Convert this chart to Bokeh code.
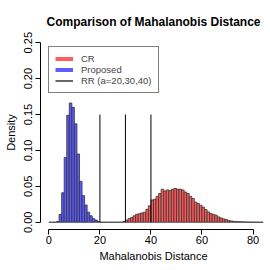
import numpy as np
from bokeh.plotting import figure
from bokeh.models import (ColumnDataSource, FixedTicker, PrintfTickFormatter,
                          Legend, LegendItem, Title)
from bokeh.embed import file_html
from bokeh.resources import INLINE

# ---- data (histogram densities, bin width 1) ----
proposed_bin_start = 0
proposed_density = [0, 0, 0, 0.001, 0.011, 0.041, 0.090, 0.149, 0.166, 0.160,
                    0.137, 0.095, 0.057, 0.037, 0.024, 0.014, 0.009, 0.005,
                    0.003, 0.001]

cr_bin_start = 20
cr_density = [0, 0, 0, 0, 0, 0, 0, 0, 0,
              0.001, 0.003, 0.005, 0.0065, 0.009, 0.011, 0.012, 0.013, 0.014,
              0.018, 0.023, 0.031, 0.032, 0.036, 0.040, 0.046, 0.0435, 0.045,
              0.044, 0.046, 0.047, 0.046, 0.046, 0.045, 0.042, 0.040, 0.036,
              0.033, 0.028, 0.026, 0.0236, 0.021, 0.0176, 0.0144, 0.012, 0.011,
              0.0097, 0.0074, 0.006, 0.0046, 0.0037, 0.0023, 0.0018, 0.0012,
              0.001, 0.0008, 0.0007, 0.0005, 0.0004, 0.0003, 0.0002, 0.0002,
              0.0001, 0.0001, 0.0001]

rr_a = [20, 30, 40]
rr_height = [0.15, 0.15, 0.15]

x_ticks = [0, 20, 40, 60, 80]
y_ticks = [0.0, 0.05, 0.10, 0.15, 0.20, 0.25]

legend_labels = ["CR", "Proposed", "RR (a=20,30,40)"]
x_title = "Mahalanobis Distance"
y_title = "Density"
main_title = "Comparison of Mahalanobis Distance"

FONT = "Liberation Sans"
RED_FILL = "#ff5a5a"
BLUE_FILL = "#5a5aff"

p = figure(width=270, height=270, output_backend="svg", toolbar_location=None,
           x_range=(-3.28, 85.28), y_range=(-0.0101, 0.26),
           min_border_left=40, min_border_right=4, min_border_top=35,
           min_border_bottom=41)
p.outline_line_color = None
p.grid.visible = False
p.background_fill_color = "white"
p.border_fill_color = "white"

def bins(start, vals):
    left = np.arange(len(vals)) + start
    return ColumnDataSource(dict(left=left, right=left + 1,
                                 top=np.array(vals, dtype=float),
                                 bottom=np.zeros(len(vals))))

p.quad(left="left", right="right", top="top", bottom="bottom",
       source=bins(proposed_bin_start, proposed_density),
       fill_color=BLUE_FILL, line_color="#333333", line_width=0.8)
p.quad(left="left", right="right", top="top", bottom="bottom",
       source=bins(cr_bin_start, cr_density),
       fill_color=RED_FILL, line_color="#333333", line_width=0.8)

p.segment(x0=rr_a, y0=[0] * len(rr_a), x1=rr_a, y1=rr_height,
          line_color="black", line_width=1)

# legend proxies (placed outside the visible range)
r_cr = p.line(x=[-100, -99], y=[-1, -1], line_color="#ff5c5c", line_width=4)
r_pr = p.line(x=[-100, -99], y=[-1, -1], line_color="#5c5cff", line_width=4)
r_rr = p.line(x=[-100, -99], y=[-1, -1], line_color="black", line_width=1.2)
legend = Legend(items=[LegendItem(label=legend_labels[0], renderers=[r_cr]),
                       LegendItem(label=legend_labels[1], renderers=[r_pr]),
                       LegendItem(label=legend_labels[2], renderers=[r_rr])],
                location=(8, 136), padding=6, margin=0, spacing=0,
                glyph_width=18, glyph_height=11, label_height=11,
                label_standoff=8, label_text_font=FONT,
                label_text_font_size="9.5px", border_line_color="black",
                border_line_width=1, background_fill_alpha=1.0)
p.add_layout(legend, "center")

# axes
for ax in (p.xaxis[0], p.yaxis[0]):
    ax.minor_tick_line_color = None
    ax.major_tick_in = 0
    ax.major_tick_out = 5
    ax.axis_line_color = "black"
    ax.major_tick_line_color = "black"
    ax.major_label_text_font = FONT
    ax.major_label_text_font_size = "11px"
    ax.major_label_text_color = "black"
    ax.axis_label_text_font = FONT
    ax.axis_label_text_font_size = "11px"
    ax.axis_label_text_font_style = "normal"
    ax.axis_label_text_color = "black"

p.xaxis.ticker = FixedTicker(ticks=x_ticks)
p.xaxis.bounds = (x_ticks[0], x_ticks[-1])
p.xaxis.axis_label = x_title
p.xaxis.major_label_standoff = 1
p.xaxis.axis_label_standoff = 3

p.yaxis.ticker = FixedTicker(ticks=y_ticks)
p.yaxis.bounds = (y_ticks[0], y_ticks[-1])
p.yaxis.formatter = PrintfTickFormatter(format="%.2f")
p.yaxis.major_label_orientation = "vertical"
p.yaxis.axis_label = y_title
p.yaxis.major_label_standoff = 3
p.yaxis.axis_label_standoff = 5

p.title = Title(text=main_title, align="center",
                text_font=FONT, text_font_size="12px", text_font_style="bold",
                text_color="black", standoff=14)

open("out.html", "w").write(file_html(p, INLINE))
